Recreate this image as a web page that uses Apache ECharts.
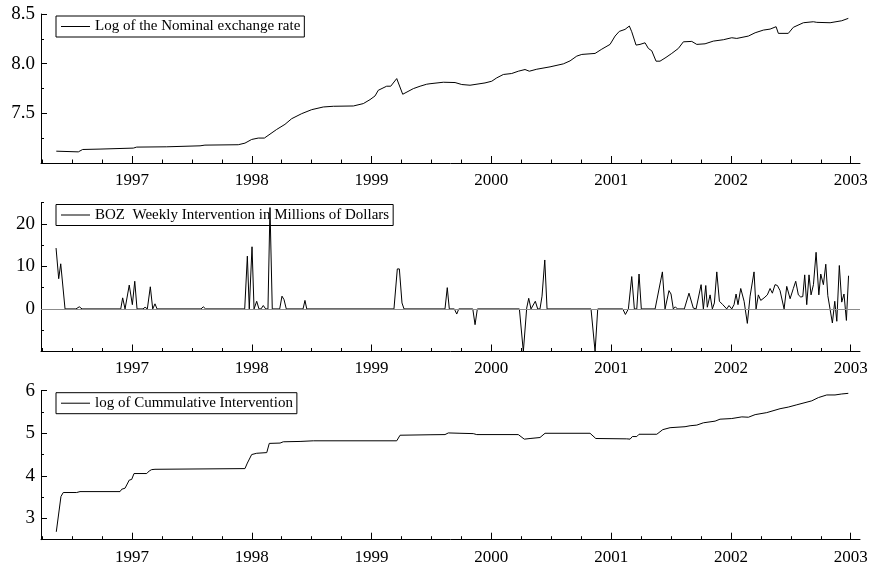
<!DOCTYPE html>
<html>
<head>
<meta charset="utf-8">
<script src="https://cdn.jsdelivr.net/npm/echarts@6/dist/echarts.min.js"></script>
<style>html,body{margin:0;padding:0;background:#fff}#c{width:871px;height:567px}</style>
</head>
<body>
<div id="c"></div>
<script>
// ---------- DATA ----------
const yearLabels = [1997, 1998, 1999, 2000, 2001, 2002, 2003];

const seriesNames = [
  'Log of the Nominal exchange rate',
  'BOZ  Weekly Intervention in Millions of Dollars',
  'log of Cummulative Intervention'
];

// Panel 1: log nominal exchange rate
const rateX = [1996.368,1996.552,1996.588,1996.733,1997.011,1997.039,1997.290,1997.568,1997.609,1997.887,1997.943,1997.999,1998.054,1998.105,1998.208,1998.277,1998.333,1998.417,1998.500,1998.597,1998.681,1998.848,1998.931,1998.987,1999.029,1999.056,1999.126,1999.160,1999.210,1999.260,1999.349,1999.405,1999.460,1999.488,1999.599,1999.697,1999.753,1999.822,1999.947,2000.003,2000.045,2000.100,2000.170,2000.225,2000.281,2000.317,2000.379,2000.490,2000.601,2000.657,2000.713,2000.755,2000.866,2000.922,2000.991,2001.033,2001.068,2001.116,2001.152,2001.172,2001.208,2001.241,2001.283,2001.311,2001.339,2001.375,2001.408,2001.458,2001.506,2001.561,2001.603,2001.673,2001.715,2001.784,2001.853,2001.937,2002.007,2002.049,2002.146,2002.202,2002.271,2002.327,2002.377,2002.396,2002.479,2002.521,2002.605,2002.688,2002.717,2002.828,2002.925,2002.980];
const rateY = [7.119,7.112,7.136,7.140,7.150,7.160,7.163,7.173,7.180,7.184,7.200,7.237,7.251,7.251,7.338,7.389,7.446,7.497,7.537,7.564,7.571,7.574,7.598,7.638,7.675,7.732,7.773,7.773,7.850,7.692,7.749,7.773,7.793,7.798,7.813,7.810,7.790,7.783,7.806,7.823,7.857,7.891,7.901,7.924,7.941,7.924,7.944,7.968,7.998,8.028,8.076,8.093,8.103,8.146,8.194,8.278,8.325,8.345,8.379,8.321,8.187,8.194,8.210,8.153,8.130,8.025,8.025,8.063,8.103,8.153,8.220,8.224,8.194,8.200,8.227,8.241,8.261,8.254,8.278,8.311,8.338,8.348,8.372,8.305,8.305,8.366,8.412,8.422,8.416,8.412,8.432,8.456];

// Panel 2: weekly intervention (millions of dollars)
const intX = [1996.366,1996.388,1996.405,1996.441,1996.532,1996.560,1996.583,1996.906,1996.922,1996.942,1996.977,1997.003,1997.023,1997.042,1997.092,1997.109,1997.128,1997.153,1997.173,1997.192,1997.209,1997.576,1997.595,1997.615,1997.941,1997.963,1997.979,1998.002,1998.019,1998.041,1998.060,1998.077,1998.096,1998.116,1998.135,1998.152,1998.171,1998.233,1998.252,1998.269,1998.288,1998.428,1998.444,1998.459,1999.187,1999.215,1999.232,1999.254,1999.271,1999.613,1999.632,1999.649,1999.691,1999.711,1999.728,1999.845,1999.864,1999.883,2000.234,2000.267,2000.295,2000.312,2000.331,2000.367,2000.387,2000.406,2000.423,2000.446,2000.465,2000.832,2000.866,2000.888,2001.097,2001.119,2001.144,2001.172,2001.194,2001.214,2001.233,2001.252,2001.367,2001.428,2001.450,2001.483,2001.500,2001.519,2001.536,2001.553,2001.611,2001.650,2001.686,2001.709,2001.751,2001.770,2001.790,2001.803,2001.826,2001.845,2001.862,2001.882,2001.904,2001.932,2001.965,2001.984,2002.007,2002.026,2002.043,2002.059,2002.082,2002.110,2002.137,2002.160,2002.174,2002.193,2002.210,2002.229,2002.249,2002.277,2002.304,2002.327,2002.346,2002.368,2002.388,2002.410,2002.444,2002.466,2002.494,2002.521,2002.541,2002.563,2002.583,2002.600,2002.616,2002.633,2002.652,2002.669,2002.689,2002.711,2002.734,2002.750,2002.772,2002.792,2002.809,2002.825,2002.847,2002.867,2002.884,2002.905,2002.925,2002.944,2002.964,2002.982];
const intY = [14.3,7.1,10.6,0,0,0.5,0,0,2.6,0,5.6,1.0,6.5,0,0,0.4,0,5.2,0,1.2,0,0,0.5,0,0,12.4,0,14.6,0,1.8,0,0,0.8,0,0,23.8,0,0,3.0,2.2,0,0,2.0,0,0,9.4,9.4,1.4,0,0,5.0,0,0,-1.2,0,0,-3.7,0,0,-10,0.2,2.5,0,1.8,0,0,3.0,11.5,0,0,-10,0,0,-1.3,0,7.6,0,0,8.2,0,0,8.7,0,4.3,3.5,0,0.5,0,0,3.7,0.2,0,5.7,0,5.5,0.4,3.3,0,1.4,8.7,1.8,1.0,0,0.8,0,1.0,3.5,1.0,4.8,1.8,-3.4,3.0,2.6,8.7,0,3.3,2.0,2.6,3.3,4.8,3.7,5.7,5.5,4.3,0,5.3,2.4,4.8,6.5,3.3,2.8,2.9,8.0,1.0,8.0,3.3,5.7,13.3,3.3,8.2,5.7,10.5,3.1,3.2,-3.3,1.8,-2.9,10.2,1.6,3.5,-2.7,7.8];

// Panel 3: log of cumulative intervention
const cumX = [1996.368,1996.407,1996.426,1996.538,1996.566,1996.900,1996.914,1996.942,1996.977,1996.997,1997.017,1997.123,1997.144,1997.164,1997.192,1997.943,1997.963,1997.979,1997.999,1998.041,1998.125,1998.146,1998.236,1998.263,1998.403,1998.514,1999.210,1999.238,1999.488,1999.613,1999.641,1999.738,1999.849,1999.878,2000.225,2000.275,2000.323,2000.406,2000.448,2000.824,2000.872,2001.130,2001.158,2001.177,2001.214,2001.233,2001.381,2001.431,2001.492,2001.617,2001.659,2001.715,2001.770,2001.868,2001.909,2002.007,2002.091,2002.146,2002.202,2002.299,2002.410,2002.479,2002.550,2002.675,2002.730,2002.800,2002.869,2002.925,2002.980];
const cumY = [2.685,3.515,3.608,3.608,3.630,3.630,3.685,3.710,3.900,3.915,4.054,4.054,4.115,4.146,4.154,4.170,4.300,4.346,4.500,4.530,4.546,4.762,4.770,4.800,4.808,4.823,4.823,4.954,4.965,4.969,5.008,5.000,4.992,4.969,4.969,4.862,4.877,4.900,5.000,5.000,4.877,4.869,4.862,4.923,4.923,4.977,4.977,5.085,5.131,5.154,5.177,5.192,5.246,5.285,5.331,5.346,5.385,5.377,5.438,5.485,5.577,5.615,5.669,5.762,5.838,5.900,5.900,5.923,5.938];

// y-axis ticks per panel
const yMajor = [[7.0, 7.5, 8.0, 8.5], [-10, 0, 10, 20], [3, 4, 5, 6]];
const yLabels = [[7.5, 8.0, 8.5], [0, 10, 20], [3, 4, 5, 6]];
const yMinor = [[7.25, 7.75, 8.25], [-5, 5, 15, 25], [2.5, 3.5, 4.5, 5.5]];
const yRange = [[7.0, 8.5], [-10, 25], [2.5, 6]];
const yDecimals = [1, 0, 0];

// ---------- CHART ----------
const X_MIN = 1996.2403, X_MAX = 2003.0776;
const quarterTicks = [];
for (let q = 1996.25; q <= 2003.001; q += 0.25) quarterTicks.push(+q.toFixed(2));

const FONT = 'Liberation Serif';
const tops = [14, 202.5, 390.7];
const H = 149;

const zip = (xs, ys) => xs.map((x, i) => [x, ys[i]]);
const datas = [zip(rateX, rateY), zip(intX, intY), zip(cumX, cumY)];

const grid = [], xAxis = [], yAxis = [], series = [], legend = [];
for (let i = 0; i < 3; i++) {
  grid.push({ left: 41, right: 11, top: tops[i], height: H, containLabel: false });
  xAxis.push({
    type: 'value', gridIndex: i, min: X_MIN, max: X_MAX, position: 'bottom',
    axisLine: { show: true, onZero: false, lineStyle: { color: '#000', width: 1 } },
    axisTick: { show: true, inside: true, length: 7, customValues: yearLabels, lineStyle: { color: '#000', width: 1 } },
    axisLabel: { show: true, customValues: yearLabels, margin: 9, color: '#000', fontFamily: FONT, fontSize: 17, formatter: v => String(Math.round(v)) },
    splitLine: { show: false }
  });
  xAxis.push({
    type: 'value', gridIndex: i, min: X_MIN, max: X_MAX, position: 'bottom', offset: 0,
    axisLine: { show: false, onZero: false },
    axisTick: { show: true, inside: true, length: 3.5, customValues: quarterTicks, lineStyle: { color: '#000', width: 1 } },
    axisLabel: { show: false },
    splitLine: { show: false }
  });
  const d = yDecimals[i];
  yAxis.push({
    type: 'value', gridIndex: i, min: yRange[i][0], max: yRange[i][1], position: 'left',
    axisLine: { show: true, onZero: false, lineStyle: { color: '#000', width: 1 } },
    axisTick: { show: true, inside: true, length: 6, customValues: yMajor[i], lineStyle: { color: '#000', width: 1 } },
    axisLabel: { show: true, customValues: yLabels[i], margin: 6, color: '#000', fontFamily: FONT, fontSize: 19, formatter: v => v.toFixed(d) },
    splitLine: { show: false }
  });
  yAxis.push({
    type: 'value', gridIndex: i, min: yRange[i][0], max: yRange[i][1], position: 'left', offset: 0,
    axisLine: { show: false, onZero: false },
    axisTick: { show: true, inside: true, length: 3, customValues: yMinor[i], lineStyle: { color: '#000', width: 1 } },
    axisLabel: { show: false },
    splitLine: { show: false }
  });
  const s = {
    name: seriesNames[i], type: 'line', xAxisIndex: 2 * i, yAxisIndex: 2 * i,
    data: datas[i], symbol: 'none', showSymbol: false, smooth: false,
    lineStyle: { color: '#000', width: 1 }, itemStyle: { color: '#000' },
    clip: true, animation: false, z: 3
  };
  if (i === 1) {
    s.markLine = {
      silent: true, symbol: ['none', 'none'], animation: false,
      label: { show: false },
      lineStyle: { color: '#8c8c8c', type: 'solid', width: 1 },
      data: [{ yAxis: 0 }]
    };
  }
  series.push(s);
  legend.push({
    data: [{ name: seriesNames[i], icon: 'rect' }], left: 56, top: tops[i] + 2,
    orient: 'horizontal', padding: [3, 4, 3, 5],
    borderColor: '#000', borderWidth: 1, backgroundColor: 'transparent',
    itemWidth: 29, itemHeight: 1, itemGap: 0,
    itemStyle: { color: '#000', borderWidth: 0 },
    textStyle: { color: '#000', fontFamily: FONT, fontSize: 15 },
    selectedMode: false
  });
}

const chart = echarts.init(document.getElementById('c'), null, { renderer: 'canvas' });
chart.setOption({
  backgroundColor: '#fff',
  animation: false,
  grid, xAxis, yAxis, series, legend
});
</script>
</body>
</html>
